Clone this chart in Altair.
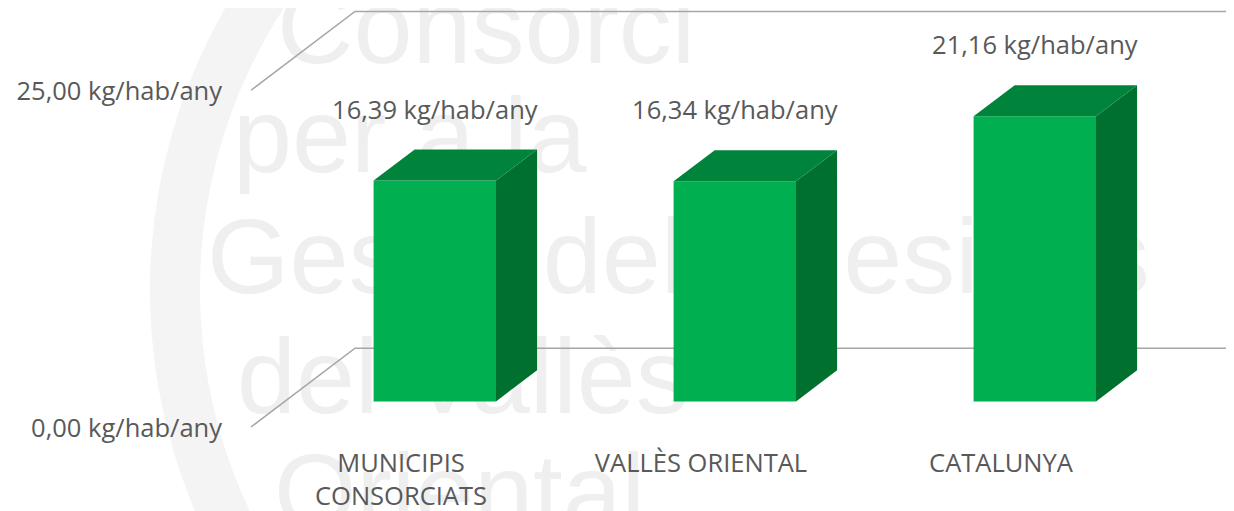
import altair as alt
import pandas as pd

# ---------------- data ----------------
categories = ["MUNICIPIS CONSORCIATS", "VALLÈS ORIENTAL", "CATALUNYA"]
category_lines = [["MUNICIPIS", "CONSORCIATS"], ["VALLÈS ORIENTAL"], ["CATALUNYA"]]
values = [16.39, 16.34, 21.16]
value_labels = ["16,39 kg/hab/any", "16,34 kg/hab/any", "21,16 kg/hab/any"]
tick_values = [0, 25]
tick_labels = ["0,00 kg/hab/any", "25,00 kg/hab/any"]
watermark_lines = ["Consorci", "per a la", "Gestió dels Residus", "del Vallès", "Oriental"]

# ---------------- layout / 3D projection ----------------
W, H = 1218, 503
U_DOM = [-0.81, 3.25]          # category units
V_DOM = [-6.236, 31.106]       # value units
DX, DY = 0.3467, 5.85          # depth offset (front -> back wall)
F0, F1 = 0.325, 0.72           # bar depth span (fraction of full depth)
HALF = 0.204                   # half bar width (category units)

TXT = "#595959"
GRID = "#A6A6A6"
FRONT, TOP, SIDE = "#00B050", "#00843C", "#00702E"
FONT = "Open Sans"
FS = 25.5

xs = alt.Scale(domain=U_DOM, nice=False, zero=False)
ys = alt.Scale(domain=V_DOM, nice=False, zero=False)

# front faces
front = pd.DataFrame({
    "bar": categories,
    "u0": [i + 0.5 - HALF + F0 * DX for i in range(3)],
    "u1": [i + 0.5 + HALF + F0 * DX for i in range(3)],
    "b": [F0 * DY] * 3,
    "t": [v + F0 * DY for v in values],
})

# side faces
side_rows = []
for i, (c, v) in enumerate(zip(categories, values)):
    for f in (F0, F1):
        side_rows.append({"bar": c, "u": i + 0.5 + HALF + f * DX, "lo": f * DY, "hi": v + f * DY})
side = pd.DataFrame(side_rows)

# top faces
top_rows = []
for i, (c, v) in enumerate(zip(categories, values)):
    for f in (F0, F1):
        top_rows.append({"bar": c, "vv": v + f * DY,
                         "l": i + 0.5 - HALF + f * DX, "r": i + 0.5 + HALF + f * DX})
top = pd.DataFrame(top_rows)

# axis lines (diagonal side wall + back wall gridline)
line_rows = []
for t in tick_values:
    line_rows += [
        {"g": t, "k": 0, "u": 0.0, "v": t},
        {"g": t, "k": 1, "u": DX, "v": t + DY},
        {"g": t, "k": 2, "u": U_DOM[1], "v": t + DY},
    ]
lines = pd.DataFrame(line_rows)

ticks = pd.DataFrame({"u": [0.0] * len(tick_values), "v": tick_values, "lab": tick_labels})
vlabels = pd.DataFrame({"u": [i + 0.5 + F0 * DX for i in range(3)],
                        "v": [v + F0 * DY for v in values], "lab": value_labels})
clabels = pd.DataFrame({"u": [i + 0.5 for i in range(3)], "v": [0.0] * 3, "lab": category_lines})

# ---------------- watermark ----------------
one = pd.DataFrame({"a": [1]})
ring = alt.Chart(one).mark_arc(
    theta=4.19, theta2=5.41, radius=566, radius2=516, color="#F4F4F4"
).encode(x=alt.value(708), y=alt.value(282))

wm_pos = [(269, 55), (225, 164), (199, 285), (229, 405), (266, 520)]
wm_layers = []
for txt, (px, py) in zip(watermark_lines, wm_pos):
    wm_layers.append(
        alt.Chart(pd.DataFrame({"t": [txt]})).mark_text(
            font="Liberation Sans", fontSize=106, color="#EFEFEF",
            align="left", baseline="alphabetic"
        ).encode(x=alt.value(px), y=alt.value(py), text="t:N")
    )

# ---------------- chart layers ----------------
grid = alt.Chart(lines).mark_line(color=GRID, strokeWidth=1.5).encode(
    x=alt.X("u:Q", scale=xs, axis=None),
    y=alt.Y("v:Q", scale=ys, axis=None),
    detail="g:N", order="k:Q",
)

front_l = alt.Chart(front).mark_rect(color=FRONT).encode(
    x=alt.X("u0:Q", scale=xs, axis=None), x2="u1:Q",
    y=alt.Y("b:Q", scale=ys, axis=None), y2="t:Q",
)

side_l = alt.Chart(side).mark_area(color=SIDE, line=False).encode(
    x=alt.X("u:Q", scale=xs, axis=None),
    y=alt.Y("lo:Q", scale=ys, axis=None, stack=None), y2="hi:Q",
    detail="bar:N",
)

top_l = alt.Chart(top).mark_area(color=TOP, orient="horizontal", line=False).encode(
    y=alt.Y("vv:Q", scale=ys, axis=None),
    x=alt.X("l:Q", scale=xs, axis=None, stack=None), x2="r:Q",
    detail="bar:N",
)

tick_l = alt.Chart(ticks).mark_text(
    font=FONT, fontSize=FS, color=TXT, align="right", baseline="middle", dx=-29, dy=2
).encode(x=alt.X("u:Q", scale=xs, axis=None), y=alt.Y("v:Q", scale=ys, axis=None), text="lab:N")

val_l = alt.Chart(vlabels).mark_text(
    font=FONT, fontSize=FS, color=TXT, align="center", baseline="middle", dy=-70
).encode(x=alt.X("u:Q", scale=xs, axis=None), y=alt.Y("v:Q", scale=ys, axis=None), text="lab:N")

cat_l = alt.Chart(clabels).mark_text(
    font=FONT, fontSize=FS, color=TXT, align="center", baseline="top", dy=25, lineHeight=33
).encode(x=alt.X("u:Q", scale=xs, axis=None), y=alt.Y("v:Q", scale=ys, axis=None), text="lab")

chart = alt.layer(
    ring, *wm_layers, grid, front_l, side_l, top_l, tick_l, val_l, cat_l
).properties(
    width=W, height=H, padding=0, background="white",
    autosize=alt.AutoSizeParams(type="none"),
).configure_view(stroke=None)

chart.save("out.html", embed_options={"renderer": "svg", "actions": False})
